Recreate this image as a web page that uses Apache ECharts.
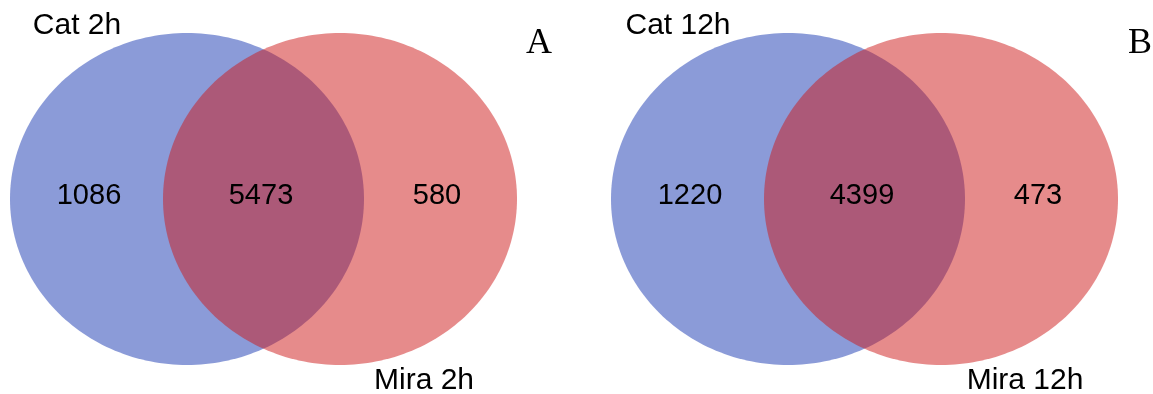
<!DOCTYPE html>
<html>
<head>
<meta charset="utf-8">
<script src="https://cdn.jsdelivr.net/npm/echarts@6/dist/echarts.min.js"></script>
<style>
  html, body { margin: 0; padding: 0; background: #ffffff; }
  #chart { width: 1153px; height: 394px; }
</style>
</head>
<body>
<div id="chart"></div>
<script>
// Two-set Venn diagrams: gene counts unique to each condition and shared.
const panelLetters = ['A', 'B'];
const firstSetNames = ['Cat 2h', 'Cat 12h'];
const secondSetNames = ['Mira 2h', 'Mira 12h'];
const onlyFirst = [1086, 1220];
const sharedCounts = [5473, 4399];
const onlySecond = [580, 473];

// Layout in canvas units (x: 0..1153, y: 0..394 top-down)
const panelOffset = [0, 601];
const setFill = ['rgba(23,55,177,0.5)', 'rgba(205,23,23,0.5)'];

const ellipses = [];
const counts = [];
const labels = [];
panelLetters.forEach(function (letter, p) {
  const dx = panelOffset[p];
  ellipses.push([dx + 187, 199, 177, 166, 0]);
  ellipses.push([dx + 340, 199, 177, 166, 1]);
  counts.push([dx + 89, 196, onlyFirst[p]]);
  counts.push([dx + 261, 196, sharedCounts[p]]);
  counts.push([dx + 437, 196, onlySecond[p]]);
  labels.push([dx + 77, 26, firstSetNames[p], 'sans']);
  labels.push([dx + 424, 381, secondSetNames[p], 'sans']);
  labels.push([dx + 539, 44, letter, 'serif']);
});

const chart = echarts.init(document.getElementById('chart'), null, { renderer: 'canvas' });

chart.setOption({
  animation: false,
  backgroundColor: '#ffffff',
  grid: { left: 0, right: 0, top: 0, bottom: 0 },
  xAxis: { type: 'value', min: 0, max: 1153, show: false },
  yAxis: { type: 'value', min: 0, max: 394, inverse: true, show: false },
  series: [
    {
      type: 'custom',
      coordinateSystem: 'cartesian2d',
      data: ellipses,
      silent: true,
      renderItem: function (params, api) {
        const c = api.coord([api.value(0), api.value(1)]);
        const s = api.size([api.value(2), api.value(3)]);
        const pts = [];
        const n = 240;
        for (let i = 0; i < n; i++) {
          const t = (i / n) * Math.PI * 2;
          pts.push([c[0] + s[0] * Math.cos(t), c[1] + s[1] * Math.sin(t)]);
        }
        return {
          type: 'polygon',
          shape: { points: pts },
          style: { fill: setFill[api.value(4)], stroke: null }
        };
      },
      z: 1
    },
    {
      type: 'custom',
      coordinateSystem: 'cartesian2d',
      data: counts,
      silent: true,
      renderItem: function (params, api) {
        const c = api.coord([api.value(0), api.value(1)]);
        return {
          type: 'text',
          x: c[0],
          y: c[1],
          style: {
            text: String(api.value(2)),
            font: '29px "Liberation Sans", Arial, sans-serif',
            fill: '#000000',
            align: 'center',
            verticalAlign: 'middle'
          }
        };
      },
      z: 2
    },
    {
      type: 'custom',
      coordinateSystem: 'cartesian2d',
      data: labels,
      silent: true,
      renderItem: function (params, api) {
        const item = labels[params.dataIndex];
        const c = api.coord([item[0], item[1]]);
        const font = item[3] === 'serif'
          ? '36px "Liberation Serif", "Times New Roman", serif'
          : '30px "Liberation Sans", Arial, sans-serif';
        return {
          type: 'text',
          x: c[0],
          y: c[1],
          style: {
            text: item[2],
            font: font,
            fill: '#000000',
            align: 'center',
            verticalAlign: 'middle'
          }
        };
      },
      z: 3
    }
  ]
});
</script>
</body>
</html>
